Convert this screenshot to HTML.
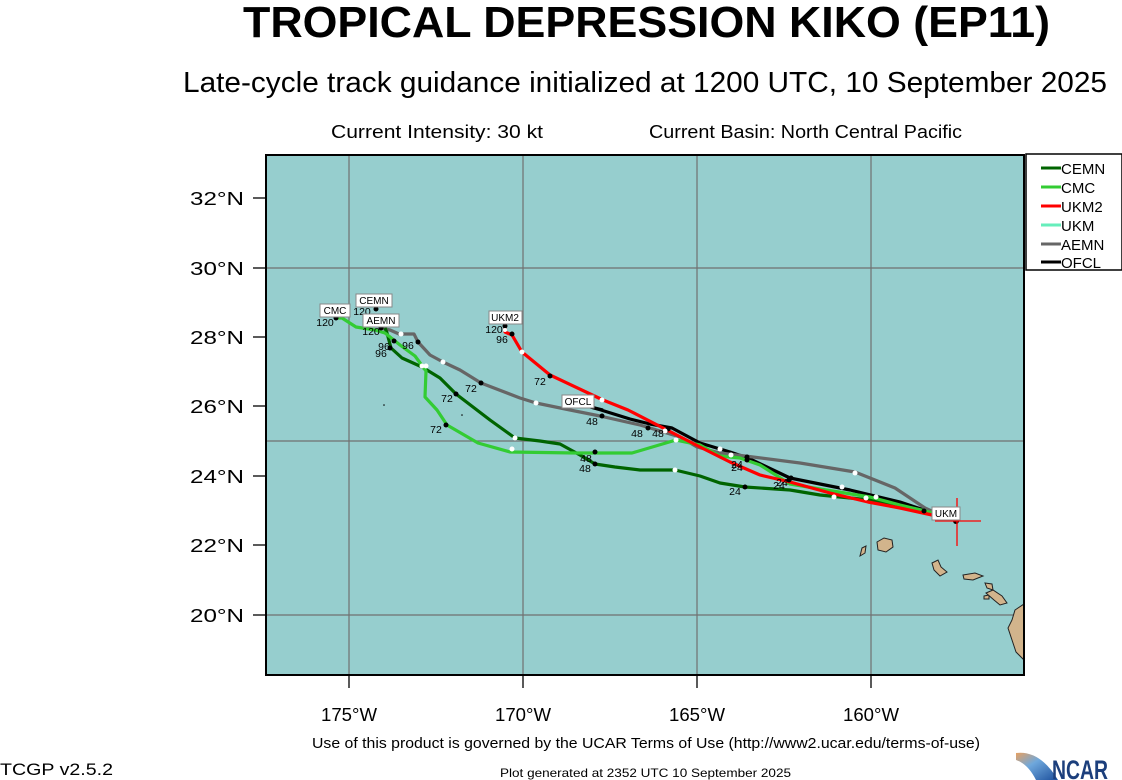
<!DOCTYPE html>
<html><head><meta charset="utf-8"><style>
body{margin:0;background:#fff;}
svg{display:block;font-family:"Liberation Sans",Arial,sans-serif;}
</style></head><body>
<svg width="1122" height="780" viewBox="0 0 1122 780" xmlns="http://www.w3.org/2000/svg">
<rect width="1122" height="780" fill="#fff"/>
<text x="243" y="37" font-size="44" font-weight="bold" textLength="807" lengthAdjust="spacingAndGlyphs">TROPICAL DEPRESSION KIKO (EP11)</text>
<text x="183" y="92" font-size="29" textLength="924" lengthAdjust="spacingAndGlyphs">Late-cycle track guidance initialized at 1200 UTC, 10 September 2025</text>
<text x="331" y="138" font-size="18" textLength="212" lengthAdjust="spacingAndGlyphs">Current Intensity: 30 kt</text>
<text x="649" y="138" font-size="18" textLength="313" lengthAdjust="spacingAndGlyphs">Current Basin: North Central Pacific</text>
<defs><clipPath id="c"><rect x="266" y="155" width="758" height="520"/></clipPath></defs>
<rect x="266" y="155" width="758" height="520" fill="#96cece"/>
<g clip-path="url(#c)">
<g stroke="#707070" stroke-width="1.2">
<line x1="349" y1="155" x2="349" y2="675"/><line x1="523" y1="155" x2="523" y2="675"/>
<line x1="697" y1="155" x2="697" y2="675"/><line x1="871" y1="155" x2="871" y2="675"/>
<line x1="266" y1="268" x2="1024" y2="268"/><line x1="266" y1="441" x2="1024" y2="441"/><line x1="266" y1="615" x2="1024" y2="615"/>
</g>
<g fill="#d2b48c" stroke="#222" stroke-width="1">
<path d="M877,542 L884,538 L892,540 L893,547 L886,552 L878,550 Z"/>
<path d="M862,548 L866,546 L865,553 L860,556 Z"/>
<path d="M932,563 L938,560 L941,567 L947,572 L940,576 L934,570 Z"/>
<path d="M963,575 L975,573 L983,576 L973,580 L964,579 Z"/>
<path d="M985,583 L992,584 L993,590 L987,588 Z"/>
<path d="M984,596 L989,595 L989,599 L984,599 Z"/>
<path d="M986,593 L993,590 L1002,596 L1007,603 L1000,605 L994,600 Z"/>
<path d="M1015,610 L1024,604 L1024,660 L1016,652 L1012,640 L1008,628 L1012,620 Z"/>
</g>
<g fill="none" stroke-width="3.2" stroke-linejoin="round">
<polyline stroke="#000" points="948,518 900,502 850,490 790,478 748,458 730,452 700,443 672,428 650,424 630,419 601,410 583,405"/>
<polyline stroke="#666" points="945,517 925,508 895,488 855,472 800,463 745,456 720,453 697,447 680,437 660,431 640,425 600,416 570,410 536,403 520,398 481,383 460,370 443,362 430,355 418,342 414,334 399,334 390,330 380,328"/>
<polyline stroke="#006400" points="955,520 870,500 820,495 790,490 745,487 720,483 700,476 675,470 640,470 615,467 595,464 580,455 560,444 540,441 515,438 490,420 456,394 440,378 422,367 402,358 391,348 387,333 385,328"/>
<polyline stroke="#33cc33" points="955,518 900,505 870,497 820,489 790,484 760,465 740,458 720,456 700,445 676,440 632,453 575,453 510,452 478,443 447,425 437,410 425,397 426,371 415,356 400,345 385,333 375,330 356,327 342,318 336,318"/>
<polyline stroke="#ff0000" points="955,520 900,508 868,502 830,493 790,482 760,475 730,462 700,447 667,430 628,410 603,400 550,375 522,352 512,335 505,332 505,325"/>
<polyline stroke="#000" points="603,410 583,405"/>
</g>
<g fill="#000">
<circle cx="956" cy="521" r="3"/><circle cx="924" cy="511" r="2.5"/><circle cx="745" cy="487" r="2.5"/><circle cx="747" cy="457" r="2.5"/><circle cx="747" cy="460" r="2.5"/>
<circle cx="789" cy="480" r="2.5"/><circle cx="791" cy="478" r="2.5"/><circle cx="595" cy="464" r="2.5"/><circle cx="595" cy="452" r="2.5"/>
<circle cx="668" cy="429" r="2.5"/><circle cx="648" cy="428" r="2.5"/><circle cx="602" cy="416" r="2.5"/>
<circle cx="550" cy="376" r="2.5"/><circle cx="481" cy="383" r="2.5"/><circle cx="456" cy="394" r="2.5"/><circle cx="446" cy="425" r="2.5"/>
<circle cx="418" cy="342" r="2.5"/><circle cx="394" cy="341" r="2.5"/><circle cx="390" cy="348" r="2.5"/><circle cx="512" cy="334" r="2.5"/>
<circle cx="505" cy="326" r="2.5"/><circle cx="381" cy="328" r="2.5"/><circle cx="376" cy="309" r="2.5"/><circle cx="336" cy="318" r="2.5"/>
<circle cx="384" cy="405" r="0.8"/><circle cx="462" cy="415" r="0.8"/>
</g>
<g fill="#fff">
<circle cx="834" cy="497" r="2.5"/><circle cx="866" cy="498" r="2.5"/><circle cx="876" cy="497" r="2.5"/><circle cx="842" cy="487" r="2.5"/>
<circle cx="855" cy="473" r="2.5"/><circle cx="720" cy="449" r="2.5"/><circle cx="731" cy="455" r="2.5"/><circle cx="675" cy="470" r="2.5"/>
<circle cx="676" cy="440" r="2.5"/><circle cx="665" cy="431" r="2.5"/><circle cx="602" cy="400" r="2.5"/><circle cx="512" cy="449" r="2.5"/>
<circle cx="515" cy="438" r="2.5"/><circle cx="536" cy="403" r="2.5"/><circle cx="443" cy="362" r="2.5"/><circle cx="422" cy="366" r="2.5"/>
<circle cx="426" cy="366" r="2.5"/><circle cx="522" cy="352" r="2.5"/><circle cx="401" cy="334" r="2.5"/><circle cx="505" cy="330" r="2"/>
</g>
<g stroke="#ff0000" stroke-width="1.3"><line x1="935" y1="521" x2="981" y2="521"/><line x1="957" y1="498" x2="957" y2="546"/></g>
<g font-size="10.5" fill="#000" text-anchor="middle">
<text x="735" y="495">24</text><text x="737" y="468">24</text><text x="737" y="471">24</text><text x="779" y="489">24</text><text x="782" y="486">24</text>
<text x="586" y="462">48</text><text x="585" y="472">48</text><text x="592" y="425">48</text><text x="637" y="437">48</text><text x="658" y="437">48</text>
<text x="540" y="385">72</text><text x="471" y="392">72</text><text x="447" y="402">72</text><text x="436" y="433">72</text>
<text x="408" y="349">96</text><text x="384" y="350">96</text><text x="381" y="357">96</text><text x="502" y="343">96</text>
<text x="494" y="333">120</text><text x="371" y="335">120</text><text x="362" y="315">120</text><text x="325" y="326">120</text>
</g>
<g font-size="10" text-anchor="middle">
<rect x="320" y="304" width="30" height="13" fill="#fff" stroke="#888"/><text x="335" y="314">CMC</text>
<rect x="356" y="294" width="36" height="13" fill="#fff" stroke="#888"/><text x="374" y="304">CEMN</text>
<rect x="363" y="314" width="36" height="13" fill="#fff" stroke="#888"/><text x="381" y="324">AEMN</text>
<rect x="489" y="311" width="33" height="13" fill="#fff" stroke="#888"/><text x="505" y="321">UKM2</text>
<rect x="562" y="395" width="32" height="13" fill="#fff" stroke="#888"/><text x="578" y="405">OFCL</text>
<rect x="932" y="507" width="28" height="13" fill="#fff" stroke="#888"/><text x="946" y="517">UKM</text>
</g>
</g>
<rect x="266" y="155" width="758" height="520" fill="none" stroke="#000" stroke-width="2"/>
<g stroke="#000" stroke-width="1.3">
<line x1="253" y1="198" x2="266" y2="198"/><line x1="253" y1="268" x2="266" y2="268"/><line x1="253" y1="337" x2="266" y2="337"/>
<line x1="253" y1="406" x2="266" y2="406"/><line x1="253" y1="476" x2="266" y2="476"/><line x1="253" y1="545" x2="266" y2="545"/><line x1="253" y1="615" x2="266" y2="615"/>
<line x1="349" y1="675" x2="349" y2="688"/><line x1="523" y1="675" x2="523" y2="688"/><line x1="697" y1="675" x2="697" y2="688"/><line x1="871" y1="675" x2="871" y2="688"/>
</g>
<g font-size="18">
<text x="190" y="205" textLength="54" lengthAdjust="spacingAndGlyphs">32°N</text><text x="190" y="275" textLength="54" lengthAdjust="spacingAndGlyphs">30°N</text>
<text x="190" y="344" textLength="54" lengthAdjust="spacingAndGlyphs">28°N</text><text x="190" y="413" textLength="54" lengthAdjust="spacingAndGlyphs">26°N</text>
<text x="190" y="483" textLength="54" lengthAdjust="spacingAndGlyphs">24°N</text><text x="190" y="552" textLength="54" lengthAdjust="spacingAndGlyphs">22°N</text>
<text x="190" y="622" textLength="54" lengthAdjust="spacingAndGlyphs">20°N</text>
</g>
<g font-size="18">
<text x="321" y="721" textLength="56" lengthAdjust="spacingAndGlyphs">175°W</text><text x="495" y="721" textLength="56" lengthAdjust="spacingAndGlyphs">170°W</text>
<text x="669" y="721" textLength="56" lengthAdjust="spacingAndGlyphs">165°W</text><text x="843" y="721" textLength="56" lengthAdjust="spacingAndGlyphs">160°W</text>
</g>
<rect x="1026" y="154" width="96" height="116" fill="#fff" stroke="#000" stroke-width="1.5"/>
<g stroke-width="3">
<line x1="1041" y1="168" x2="1061" y2="168" stroke="#006400"/><line x1="1041" y1="187" x2="1061" y2="187" stroke="#33cc33"/>
<line x1="1041" y1="206" x2="1061" y2="206" stroke="#ff0000"/><line x1="1041" y1="225" x2="1061" y2="225" stroke="#66eebb"/>
<line x1="1041" y1="244" x2="1061" y2="244" stroke="#666"/><line x1="1041" y1="262" x2="1061" y2="262" stroke="#000"/>
</g>
<g font-size="15">
<text x="1061" y="174">CEMN</text><text x="1061" y="193">CMC</text><text x="1061" y="212">UKM2</text>
<text x="1061" y="231">UKM</text><text x="1061" y="250">AEMN</text><text x="1061" y="268">OFCL</text>
</g>
<text x="312" y="748" font-size="15" textLength="668" lengthAdjust="spacingAndGlyphs">Use of this product is governed by the UCAR Terms of Use (http://www2.ucar.edu/terms-of-use)</text>
<text x="0" y="775" font-size="17" textLength="113" lengthAdjust="spacingAndGlyphs">TCGP v2.5.2</text>
<text x="500" y="777" font-size="12" textLength="291" lengthAdjust="spacingAndGlyphs">Plot generated at 2352 UTC   10 September 2025</text>
<defs><linearGradient id="g" x1="0" y1="0" x2="1" y2="1"><stop offset="0" stop-color="#e8a060"/><stop offset="0.4" stop-color="#6fa8dc"/><stop offset="1" stop-color="#1c4f9c"/></linearGradient></defs>
<path d="M1016,753 Q1040,750 1058,780 L1036,780 Q1028,764 1016,760 Z" fill="url(#g)"/>
<text x="1052" y="779" font-size="27" font-weight="bold" fill="#1c3f7c" textLength="56" lengthAdjust="spacingAndGlyphs">NCAR</text>
</svg>
</body></html>
